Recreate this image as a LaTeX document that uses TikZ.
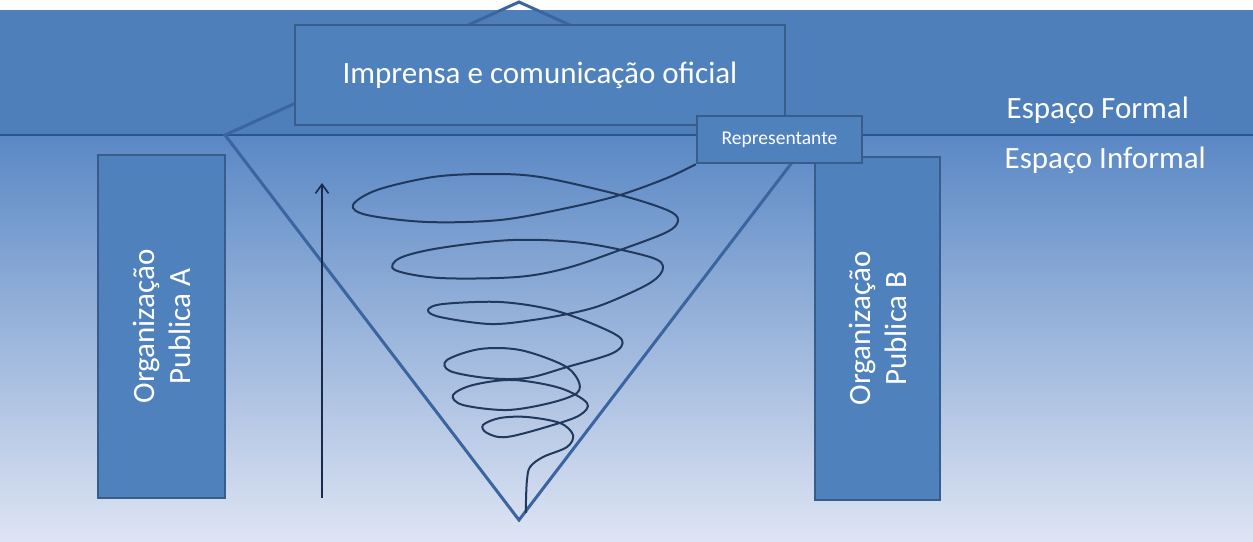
\documentclass[tikz,border=0pt]{standalone}
\usepackage{fontspec}
\setmainfont{Carlito}
\usetikzlibrary{arrows.meta,positioning}

\definecolor{bandblue}{HTML}{4E7FBB}
\definecolor{boxblue}{HTML}{4F81BD}
\definecolor{boxline}{HTML}{385D8A}
\definecolor{funnelline}{HTML}{3A65A0}
\definecolor{sepline}{HTML}{2B568C}
\definecolor{spiralline}{HTML}{22395E}
\definecolor{arrowline}{HTML}{1B2A4A}
\definecolor{gradtop}{HTML}{5A88C5}
\definecolor{gradmid}{HTML}{B4C9E8}
\definecolor{gradbot}{HTML}{DEE4F3}

\begin{document}
\begin{tikzpicture}[
    x = 1pt, y = -1pt, % pixel grid, y goes down
    > = {Straight Barb[length=9pt,width=13pt]}, % arrow head style
    semithick % line style
    ]

    \tikzset{box/.style={
    draw = boxline,
    line width = 2.4pt,
    fill = boxblue,
    text = white,
    inner sep = 0pt,
    align = center,
    font = \fontsize{31}{36}\selectfont
    }}
    \tikzset{lbl/.style={text = white, anchor = west, font = \fontsize{31}{36}\selectfont}}

    \useasboundingbox (0,0) rectangle (1253,541);
    \fill[white] (0,0) rectangle (1253,541);
    % formal / informal
    \fill[bandblue] (0,10) rectangle (1253,135);
    \shade[top color=gradtop, middle color=gradmid, bottom color=gradbot] (0,135) rectangle (1253,541);
    \draw[sepline, line width=2.5pt] (0,135) -- (1253,135);

    % funnel
    \draw[funnelline, line width=3pt] (225,135) -- (519,2) -- (813,135) -- (519,520) -- cycle;

    \node[box, rotate=90, minimum width=343pt, minimum height=127pt] (orgA) at (161.5,326.5) {Organização\\Publica A};
    \node[box, rotate=90, minimum width=343pt, minimum height=125pt] (orgB) at (877.5,328.5) {Organização\\Publica B};
    \node[box, minimum width=490pt, minimum height=100pt] (imp) at (540,75) {Imprensa e comunicação oficial};
    \node[box, minimum width=165pt, minimum height=47pt, font=\fontsize{19.5}{23}\selectfont] (rep) at (779.5,139.5) {Representante};

    \node[lbl] (formal) at (1003,110) {Espaço Formal};
    \node[lbl] (informal) at (1001,160) {Espaço Informal};

    % spiral from the representative down to the funnel tip
    \draw[spiralline, line width=2pt] plot[smooth, tension=0.55] coordinates {
    (rep.south west) (667,178) (620,195) (567,208) (500,220) (427,222) (367,215) (353,205)
    (377,190) (433,177) (487,174) (540,177) (620,195) (667,210) (678,220) (667,232)
    (620,250) (567,268) (517,277) (440,278) (395,270) (400,258) (440,248) (513,240)
    (583,243) (650,257) (663,268) (650,283) (607,303) (577,312) (533,320) (490,324)
    (440,317) (428,310) (443,304) (500,302) (553,310) (600,327) (622,340) (613,353)
    (567,367) (527,378) (487,378) (450,371) (447,360) (480,349) (520,350) (563,365)
    (578,380) (577,393) (550,403) (507,410) (463,405) (453,395) (473,385) (513,380)
    (560,388) (587,403) (580,415) (553,425) (507,437) (487,433) (483,425) (500,418)
    (527,417) (560,423) (573,435) (567,447) (543,457) (530,467) (527,480) (526,500)
    (526,513)};

    \coordinate (arrbot) at (322,498);
    \coordinate (arrtop) at (322,183);
    \draw[->, arrowline, line width=1.6pt] (arrbot) -- (arrtop);
\end{tikzpicture}
\end{document}
